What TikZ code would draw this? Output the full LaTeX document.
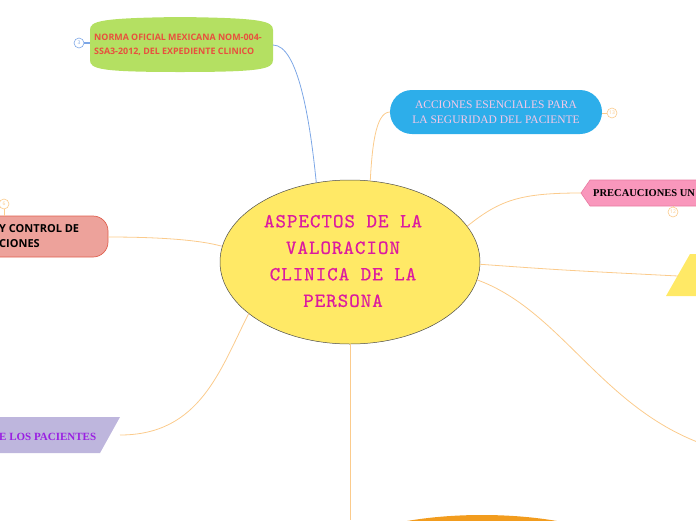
\documentclass[tikz,border=0pt]{standalone}
\usepackage{fontspec}
\usetikzlibrary{shapes.geometric}
\setmainfont{Liberation Serif}
\newfontfamily\sansf{Open Sans}
\newfontfamily\monof{lmmono10-regular.otf}[LetterSpace=5,FakeBold=0.6]
\newcommand{\ctrfont}{\monof\fontsize{20}{26.5}\selectfont}
\definecolor{ctrfill}{HTML}{FFE966}
\definecolor{ctrtext}{HTML}{DC1AA0}
\definecolor{greenfill}{HTML}{B4E062}
\definecolor{redtext}{HTML}{E8503E}
\definecolor{bluefill}{HTML}{2DAEEA}
\definecolor{pinktext}{HTML}{F6C8E8}
\definecolor{pinkfill}{HTML}{F997BC}
\definecolor{pinkdraw}{HTML}{E77BA2}
\definecolor{salfill}{HTML}{EDA29B}
\definecolor{saldraw}{HTML}{E0604F}
\definecolor{purpfill}{HTML}{BEB6DD}
\definecolor{purptext}{HTML}{9A20E2}
\definecolor{orline}{HTML}{FBCB8C}
\definecolor{blline}{HTML}{7DA7E6}
\definecolor{orfill}{HTML}{F29C1E}
\tikzset{
  conn/.style={draw=orline, line width=0.8pt},
  bconn/.style={draw=blline, line width=0.8pt},
  numc/.style={circle, draw=#1, line width=0.6pt, fill=white, inner sep=0pt, minimum size=10pt, font=\sansf\fontsize{5}{5}\selectfont, text=#1},
}
\begin{document}
\begin{tikzpicture}[x=1pt,y=-1pt]
\useasboundingbox (0,0) rectangle (696,520);
\begin{scope}
\clip (0,0) rectangle (696,520);
% shapes
\fill[greenfill] (90,30) .. controls (90,21) and (100,18) .. (180,17) .. controls (262,18) and (273,21) .. (273,30) -- (273,60) .. controls (273,69) and (262,72) .. (180,72) .. controls (100,72) and (90,69) .. (90,60) -- cycle;
\fill[bluefill, rounded corners=22pt] (390,90) rectangle (602,134);
\filldraw[fill=pinkfill, draw=pinkdraw, line width=0.6pt] (581,193) -- (590,180) -- (705,180) -- (705,206) -- (590,206) -- cycle;
\filldraw[fill=salfill, draw=saldraw, line width=0.7pt, rounded corners=15pt] (-40,216) rectangle (108,257);
\fill[purpfill] (-10,417) -- (120,417) -- (100,453) -- (-10,453) -- cycle;
\fill[ctrfill] (666,296) -- (690,254) -- (700,254) -- (700,296) -- cycle;
\fill[orfill] (482,560) ellipse [x radius=150, y radius=45];
% central
\node[ellipse, draw=black!70, line width=0.5pt, fill=ctrfill, minimum width=260pt, minimum height=164pt, inner sep=0pt] (c) at (350,262) {};
% coordinates for connector ends
\coordinate (gR) at (273,45);
\coordinate (gL) at (90,43);
\coordinate (bL) at (390,112);
\coordinate (bR) at (602,113);
\coordinate (pL) at (581,193);
\coordinate (pB) at (673,206);
\coordinate (sR) at (108,237);
\coordinate (sT) at (4,216);
\coordinate (uR) at (120,435);
\coordinate (yL) at (678,276);
\coordinate (offR) at (700,443);
\coordinate (bot) at (350,520);
% connectors
\draw[bconn] (gR) .. controls (298,45) and (310,120) .. (c.113);
\draw[conn] (bL) .. controls (375,112) and (372,150) .. (c.76);
\draw[conn] (pL) .. controls (520,193) and (500,200) .. (c.17);
\draw[conn] (c.-1) .. controls (560,270) .. (yL);
\draw[conn] (c.-8) .. controls (560,310) and (600,405) .. (offR);
\draw[conn] (c.-90) -- (bot);
\draw[conn] (sR) .. controls (160,237) and (200,240) .. (c.173);
\draw[conn] (uR) .. controls (200,435) and (220,370) .. (c.207);
\node[text=ctrtext, align=center, font=\ctrfont] (ct) at (343,261) {ASPECTOS DE LA\\VALORACION\\CLINICA DE LA\\ PERSONA};
% texts
\node[anchor=west, align=left, text=redtext, font=\sansf\bfseries\fontsize{8.9}{14}\selectfont, inner sep=0pt] (gt) at (94,45) {NORMA OFICIAL MEXICANA NOM-004-\\SSA3-2012, DEL EXPEDIENTE CLINICO};
\node[align=center, text=pinktext, font=\fontsize{11.5}{15}\selectfont, inner sep=0pt] (bt) at (496,112) {ACCIONES ESENCIALES PARA\\LA SEGURIDAD DEL PACIENTE};
\node[anchor=west, font=\bfseries\fontsize{10.5}{12}\selectfont, inner sep=0pt] (pt) at (593,193) {PRECAUCIONES UN};
\node[anchor=west, align=left, font=\sansf\bfseries\fontsize{11}{15}\selectfont, inner sep=0pt] (st) at (-1,236) {Y CONTROL DE\\CIONES};
\node[anchor=west, text=purptext, font=\bfseries\fontsize{11}{12}\selectfont, inner sep=0pt] (ut) at (-1,437) {E LOS PACIENTES};
% number markers
\draw[blline, line width=1.2pt] (gL) -- (84,43);
\node[numc=blline] (n3) at (79,43) {3};
\draw[orline, line width=0.8pt] (bR) -- (607,113);
\node[numc=orline] (n13) at (612,113) {13};
\draw[orline, line width=0.8pt] (pB) -- (673,208);
\node[numc=orline] (n12) at (673,212) {12};
\draw[orline, line width=0.8pt] (sT) -- (4,208);
\node[numc=orline] (n6) at (4,204) {6};
\end{scope}
\end{tikzpicture}
\end{document}
